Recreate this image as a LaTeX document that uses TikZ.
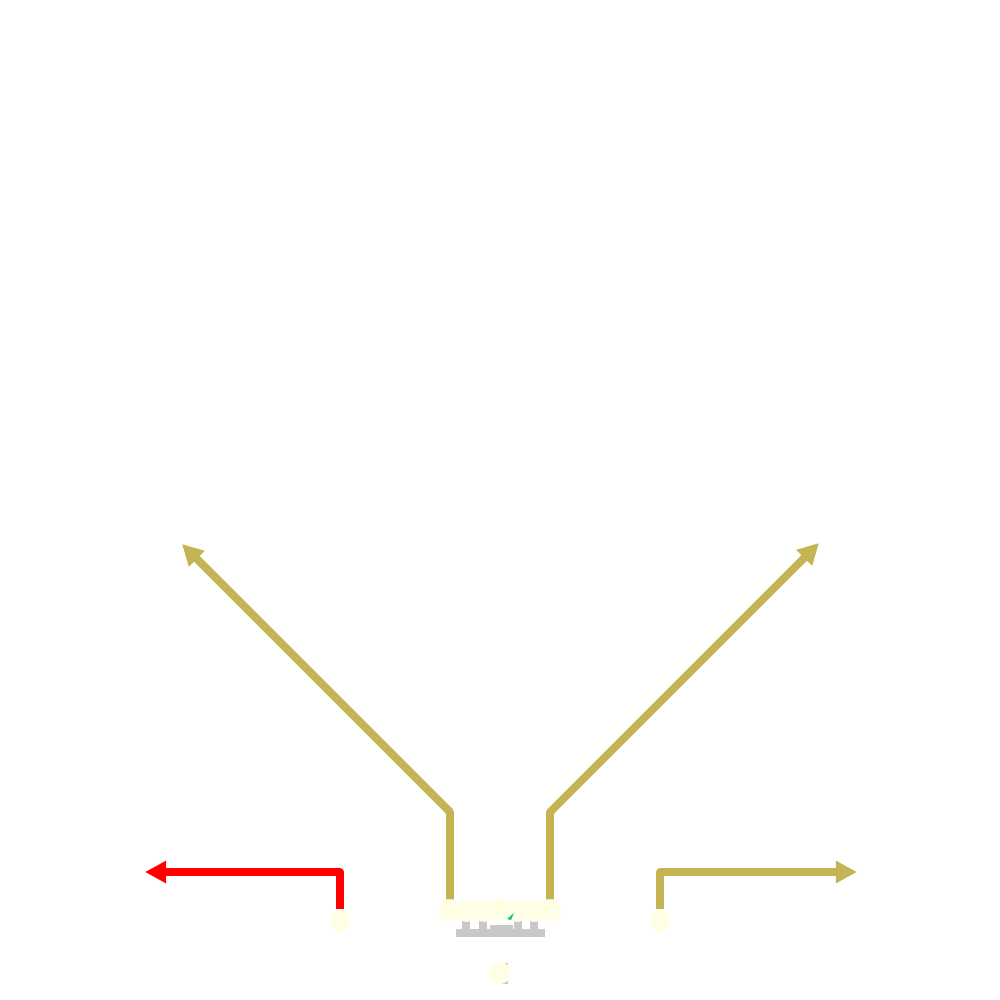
\documentclass[tikz,border=0pt]{standalone}
\usepackage{xcolor}
\usetikzlibrary{arrows.meta}
\definecolor{olivewire}{RGB}{196,180,84}
\definecolor{padfill}{RGB}{255,255,230}
\definecolor{combgray}{RGB}{200,200,200}
\definecolor{markgreen}{RGB}{30,200,130}

\begin{document}
\begin{tikzpicture}[x=0.01cm,y=-0.01cm,
  wire/.style={line width=0.078cm,line join=round,-{Triangle[length=0.21cm,width=0.21cm]}},
  pad/.style={circle,fill=padfill,inner sep=0pt,minimum size=0.22cm}]
\useasboundingbox (0,0) rectangle (1000,1000);
% comb under the pad row
\fill[combgray] (456,929) rectangle (545,937);
\fill[combgray] (462,916) rectangle (470,929);
\fill[combgray] (479,916) rectangle (487,929);
\fill[combgray] (490,925) rectangle (513,929);
\fill[combgray] (514,916) rectangle (522,929);
\fill[combgray] (530,916) rectangle (538,929);
\fill[combgray] (502,963) rectangle (508,984);
% pads
\node[pad] (pl) at (340,921) {};
\node[pad] (pr) at (660,921) {};
\node[pad] (pa) at (450,911) {};
\node[pad] (pb) at (467,911) {};
\node[pad] (pc) at (484,911) {};
\node[pad] (pd) at (500,909) {};
\node[pad] (pe) at (517,911) {};
\node[pad] (pf) at (534,911) {};
\node[pad] (pg) at (550,911) {};
\node[pad] (pz) at (500,973) {};
\fill[markgreen] (507,919) -- (514,913) -- (511,920) -- cycle;
% wire ends
\coordinate (endl) at (145,872);
\coordinate (endr) at (857,872);
\coordinate (endnw) at (182,544);
\coordinate (endne) at (819,543);
% wires
\draw[wire,red] (pl.north) |- (endl);
\draw[wire,olivewire] (pr.north) |- (endr);
\draw[wire,olivewire] (pa.north) -- (450,812) -- (endnw);
\draw[wire,olivewire] (pg.north) -- (550,812) -- (endne);
\end{tikzpicture}
\end{document}
